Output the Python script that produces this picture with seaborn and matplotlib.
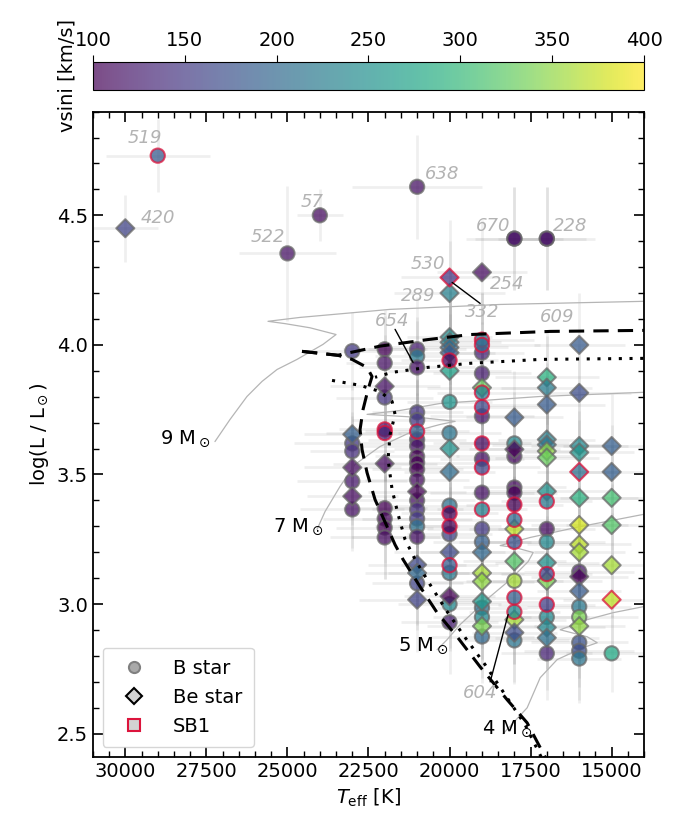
import numpy as np
import pandas as pd
import seaborn as sns
import matplotlib.pyplot as plt
from matplotlib.colors import Normalize
from matplotlib.ticker import MultipleLocator
from matplotlib.lines import Line2D

# ---- star data (Teff [K], log L, vsini [km/s], Be flag, SB1 flag, errors) ----
teff = [30000, 29000, 25000, 24000, 21000, 18000, 17000,
        23000, 23000, 23000, 23000, 23000, 23000, 23000, 23000,
        22000, 22000, 22000, 22000, 22000, 22000, 22000, 22000, 22000, 22000, 22000,
        21000, 21000, 21000, 21000, 21000, 21000, 21000, 21000, 21000, 21000, 21000,
        21000, 21000, 21000, 21000, 21000, 21000, 21000, 21000, 21000, 21000, 21000,
        20000, 20000, 20000, 20000, 20000, 20000, 20000, 20000, 20000, 20000, 20000,
        20000, 20000, 20000, 20000, 20000, 20000, 20000, 20000, 20000, 20000, 20000,
        19000, 19000, 19000, 19000, 19000, 19000, 19000, 19000, 19000, 19000, 19000, 19000,
        19000, 19000, 19000, 19000, 19000, 19000, 19000, 19000, 19000, 19000, 19000, 19000,
        18000, 18000, 18000, 18000, 18000, 18000, 18000, 18000, 18000, 18000, 18000, 18000,
        18000, 18000, 18000, 18000, 18000, 18000,
        17000, 17000, 17000, 17000, 17000, 17000, 17000, 17000, 17000, 17000, 17000, 17000,
        17000, 17000, 17000, 17000, 17000, 17000, 17000, 17000,
        16000, 16000, 16000, 16000, 16000, 16000, 16000, 16000, 16000, 16000, 16000, 16000,
        16000, 16000, 16000, 16000, 16000, 16000,
        15000, 15000, 15000, 15000, 15000, 15000, 15000]
logl = [4.45, 4.73, 4.353, 4.50, 4.61, 4.41, 4.41,
        3.976, 3.655, 3.62, 3.59, 3.527, 3.474, 3.416, 3.365,
        3.983, 3.93, 3.84, 3.797, 3.674, 3.66, 3.542, 3.37, 3.33, 3.295, 3.257,
        3.983, 3.956, 3.913, 3.74, 3.71, 3.666, 3.635, 3.61, 3.57, 3.546, 3.52,
        3.48, 3.434, 3.40, 3.365, 3.33, 3.30, 3.26, 3.152, 3.12, 3.08, 3.017,
        4.26, 4.20, 4.03, 4.01, 3.99, 3.97, 3.94, 3.90, 3.78, 3.66, 3.60,
        3.51, 3.38, 3.35, 3.30, 3.27, 3.20, 3.15, 3.12, 3.03, 3.00, 2.93,
        4.28, 4.02, 4.00, 3.97, 3.89, 3.835, 3.816, 3.76, 3.725, 3.62, 3.56, 3.527,
        3.43, 3.365, 3.29, 3.24, 3.20, 3.12, 3.087, 3.01, 2.986, 2.95, 2.915, 2.875,
        4.41, 3.72, 3.62, 3.597, 3.57, 3.45, 3.43, 3.384, 3.325, 3.29, 3.24, 3.165,
        3.09, 3.025, 2.97, 2.94, 2.89, 2.86,
        4.41, 3.875, 3.835, 3.77, 3.635, 3.615, 3.59, 3.565, 3.435, 3.396, 3.29, 3.24,
        3.16, 3.116, 3.09, 2.998, 2.95, 2.91, 2.87, 2.81,
        4.00, 3.815, 3.61, 3.585, 3.51, 3.41, 3.305, 3.23, 3.20, 3.125, 3.106, 3.05,
        2.99, 2.95, 2.915, 2.852, 2.82, 2.79,
        3.61, 3.51, 3.41, 3.305, 3.15, 3.017, 2.81]
vsini = [160, 185, 115, 110, 115, 115, 115,
         150, 190, 150, 140, 110, 120, 110, 115,
         90, 115, 115, 145, 120, 130, 110, 100, 105, 95, 110,
         125, 220, 115, 145, 150, 190, 120, 115, 95, 100, 100,
         110, 95, 115, 140, 150, 210, 115, 165, 200, 160, 160,
         150, 230, 245, 230, 200, 185, 105, 270, 255, 215, 250,
         205, 210, 100, 100, 160, 165, 185, 220, 95, 240, 125,
         110, 215, 200, 130, 125, 330, 225, 165, 120, 110, 115, 160,
         115, 230, 150, 190, 200, 360, 350, 260, 210, 240, 340, 200,
         115, 185, 240, 95, 110, 110, 95, 100, 200, 370, 175, 320,
         360, 190, 240, 360, 170, 215,
         115, 290, 225, 185, 230, 215, 350, 330, 250, 220, 110, 240,
         250, 160, 340, 155, 240, 240, 210, 130,
         185, 170, 240, 255, 210, 290, 380, 370, 360, 120, 100, 185,
         220, 340, 350, 175, 170, 215,
         190, 190, 310, 320, 360, 370, 280]
is_be = [1, 0, 0, 0, 0, 0, 0,
         0, 1, 0, 0, 1, 0, 1, 0,
         0, 0, 1, 0, 0, 0, 1, 0, 0, 0, 0,
         0, 0, 0, 0, 0, 0, 0, 0, 0, 0, 0,
         0, 1, 0, 0, 0, 0, 0, 1, 1, 0, 1,
         1, 1, 1, 1, 1, 1, 0, 1, 0, 0, 1,
         1, 0, 0, 0, 0, 1, 0, 0, 1, 0, 0,
         1, 0, 0, 0, 0, 1, 0, 0, 0, 0, 0, 0,
         0, 0, 0, 0, 1, 1, 1, 1, 0, 0, 1, 0,
         0, 1, 0, 1, 0, 0, 0, 0, 0, 1, 0, 1,
         0, 0, 0, 1, 1, 0,
         0, 1, 1, 1, 1, 1, 1, 1, 1, 0, 0, 0,
         1, 0, 1, 0, 0, 1, 1, 0,
         1, 1, 1, 1, 1, 1, 1, 1, 1, 0, 1, 1,
         0, 0, 1, 0, 0, 0,
         1, 1, 1, 1, 1, 1, 0]
is_sb1 = [0, 1, 0, 0, 0, 0, 0,
          0, 0, 0, 0, 0, 0, 0, 0,
          0, 0, 0, 0, 1, 1, 0, 0, 0, 0, 0,
          0, 0, 0, 0, 0, 1, 0, 0, 0, 0, 0,
          0, 0, 0, 0, 0, 0, 0, 0, 0, 0, 0,
          1, 0, 0, 0, 0, 0, 1, 0, 0, 0, 0,
          0, 0, 1, 1, 0, 0, 1, 0, 0, 0, 0,
          0, 1, 1, 0, 0, 0, 1, 1, 0, 1, 0, 1,
          0, 1, 0, 0, 0, 0, 0, 0, 0, 0, 0, 0,
          0, 0, 0, 0, 0, 0, 0, 1, 1, 0, 1, 0,
          0, 1, 1, 0, 0, 0,
          0, 0, 0, 0, 0, 0, 0, 0, 0, 1, 0, 0,
          0, 1, 0, 1, 0, 0, 0, 0,
          0, 0, 0, 0, 1, 0, 0, 0, 0, 0, 0, 0,
          0, 0, 0, 0, 0, 0,
          0, 0, 0, 0, 0, 1, 0]
teff_err = [1000, 1600, 1500, 700, 2000, 1500, 1500,
            1200, 1500, 1800, 1300, 1500, 1700, 1400, 1600,
            1300, 1200, 1700, 1500, 1400, 1800, 1600, 1300, 1900, 1500, 1700,
            1500, 1300, 1800, 1400, 2000, 1600, 1500, 1700, 1300, 1900, 1400,
            1600, 1500, 1800, 1400, 1700, 1300, 2000, 1500, 1600, 1400, 1800,
            1500, 1700, 1300, 1600, 1800, 1400, 1500, 1900, 1300, 1600, 1700,
            1400, 1800, 1500, 1600, 1300, 1700, 1500, 1900, 1400, 1600, 1500,
            1400, 1600, 1800, 1300, 1500, 1700, 1400, 1900, 1600, 1500, 1300, 1800,
            1600, 1400, 1700, 1500, 1900, 1300, 1600, 1800, 1400, 1500, 1700, 1600,
            1200, 1500, 1700, 1400, 1800, 1600, 1300, 1500, 1900, 1400, 1700, 1600,
            1500, 1800, 1400, 1600, 1300, 1700,
            1200, 1600, 1400, 1800, 1500, 1700, 1300, 1600, 1900, 1400, 1500, 1800,
            1600, 1400, 1700, 1500, 1300, 1800, 1600, 1400,
            1400, 1600, 1500, 1700, 1300, 1800, 1500, 1600, 1400, 1700, 1500, 1300,
            1600, 1800, 1400, 1500, 1700, 1300,
            1500, 1300, 1600, 1400, 1700, 1500, 1400]
logl_err = [0.13, 0.14, 0.26, 0.1, 0.2, 0.2, 0.2,
            0.15, 0.2, 0.18, 0.15, 0.2, 0.17, 0.2, 0.16,
            0.15, 0.18, 0.2, 0.16, 0.2, 0.18, 0.2, 0.15, 0.17, 0.2, 0.16,
            0.2, 0.15, 0.18, 0.2, 0.16, 0.2, 0.18, 0.15, 0.2, 0.17, 0.2,
            0.16, 0.2, 0.18, 0.15, 0.2, 0.17, 0.2, 0.16, 0.2, 0.18, 0.2,
            0.22, 0.2, 0.18, 0.2, 0.16, 0.2, 0.18, 0.15, 0.2, 0.17, 0.2,
            0.16, 0.2, 0.18, 0.15, 0.2, 0.17, 0.2, 0.16, 0.2, 0.18, 0.2,
            0.2, 0.18, 0.2, 0.16, 0.2, 0.18, 0.15, 0.2, 0.17, 0.2, 0.16, 0.2,
            0.18, 0.15, 0.2, 0.17, 0.2, 0.16, 0.2, 0.18, 0.2, 0.16, 0.2, 0.18,
            0.2, 0.18, 0.2, 0.16, 0.2, 0.18, 0.15, 0.2, 0.17, 0.2, 0.16, 0.2,
            0.18, 0.15, 0.2, 0.17, 0.2, 0.16,
            0.2, 0.18, 0.2, 0.16, 0.2, 0.18, 0.15, 0.2, 0.17, 0.2, 0.16, 0.2,
            0.18, 0.15, 0.2, 0.17, 0.2, 0.16, 0.2, 0.18,
            0.2, 0.18, 0.2, 0.16, 0.2, 0.18, 0.15, 0.2, 0.17, 0.2, 0.16, 0.2,
            0.18, 0.15, 0.2, 0.17, 0.2, 0.16,
            0.2, 0.18, 0.2, 0.16, 0.2, 0.18, 0.15]

# labelled stars
label_ids = ["519", "420", "57", "522", "638", "670", "228",
             "530", "254", "289", "332", "654", "609", "604"]
label_teff = [29395, 28994, 24241, 25599, 20229, 18655, 16279,
              20661, 18223, 20970, 18994, 21772, 16680, 19056]
label_logl = [4.80, 4.49, 4.55, 4.415, 4.658, 4.457, 4.457,
              4.311, 4.234, 4.188, 4.125, 4.091, 4.106, 2.658]
pointer_teff = [(21680, 21124), (19920, 19056), (18747, 18192)]
pointer_logl = [(4.06, 3.932), (4.241, 4.16), (2.70, 2.96)]

# boundary curves
dash_up_teff = [24550, 23450, 22150, 20700, 19350, 16900, 14000]
dash_up_logl = [3.975, 3.96, 3.995, 4.02, 4.04, 4.052, 4.056]
dash_lo_teff = [24550, 23450, 23007, 22544, 22390, 22513, 22667, 22760, 22698, 22544,
                22297, 21927, 21680, 21433, 20908, 20383, 19766, 19056, 18223, 17606, 17050]
dash_lo_logl = [3.975, 3.96, 3.944, 3.913, 3.878, 3.828, 3.751, 3.673, 3.596, 3.507,
                3.403, 3.299, 3.229, 3.172, 3.067, 2.967, 2.874, 2.758, 2.631, 2.542, 2.41]
dot_up_teff = [14025, 17204, 19365, 20692, 21772, 22297]
dot_up_logl = [3.948, 3.944, 3.929, 3.913, 3.894, 3.875]
dot_lo_teff = [23624, 22760, 22142, 21772, 21680, 21834, 21896, 21772, 21587, 21371,
               21062, 20599, 20074, 19519, 18902, 18285, 17667, 17173]
dot_lo_logl = [3.863, 3.844, 3.820, 3.782, 3.732, 3.654, 3.558, 3.442, 3.346, 3.249,
               3.172, 3.075, 2.971, 2.871, 2.766, 2.650, 2.534, 2.41]

# evolutionary tracks
track_masses = ["9", "7", "5", "4"]
track_teff = [
    [27235, 26772, 26247, 25784, 25321, 24704, 23902, 23500, 24303, 25074, 25599,
     24612, 21834, 18438, 14025],
    [24087, 23840, 23377, 22914, 22142, 21216, 20290, 19827, 20908, 21988, 22544,
     21525, 20290, 17204, 14025],
    [20383, 20074, 19673, 18747, 18130, 17575, 17420, 17976, 18438, 17513, 15970, 14025],
    [18346, 17976, 17606, 17204, 16680, 15877, 15445, 15754, 16587, 15754, 14951, 14025],
]
track_logl = [
    [3.627, 3.712, 3.801, 3.859, 3.905, 3.944, 4.002, 4.040, 4.066, 4.082, 4.091,
     4.106, 4.137, 4.156, 4.168],
    [3.288, 3.357, 3.454, 3.539, 3.608, 3.662, 3.693, 3.705, 3.720, 3.728, 3.732,
     3.747, 3.774, 3.801, 3.817],
    [2.824, 2.863, 2.921, 3.029, 3.094, 3.164, 3.199, 3.218, 3.226, 3.257, 3.299, 3.346],
    [2.500, 2.550, 2.600, 2.716, 2.786, 2.832, 2.851, 2.874, 2.901, 2.940, 2.967, 2.990],
]
mass_label_teff = [27390, 23900, 20020, 17430]
mass_label_logl = [3.64, 3.30, 2.84, 2.52]

df = pd.DataFrame({"teff": teff, "logl": logl, "vsini": vsini, "be": is_be,
                   "sb1": is_sb1, "teff_err": teff_err, "logl_err": logl_err})

sns.set_style("ticks")
plt.rcParams["font.family"] = ["DejaVu Sans"]
plt.rcParams.update({"text.color": "black", "axes.labelcolor": "black",
                     "xtick.color": "black", "ytick.color": "black",
                     "axes.edgecolor": "black"})

fig = plt.figure(figsize=(6.83, 8.17), dpi=100)
ax = fig.add_axes([0.136, 0.0734, 0.807, 0.790])
cax = fig.add_axes([0.136, 0.890, 0.807, 0.034])

norm = Normalize(100, 400)

ax.errorbar(df["teff"], df["logl"], xerr=df["teff_err"], yerr=df["logl_err"],
            fmt="none", ecolor="gray", elinewidth=2, alpha=0.12, zorder=1)

for tt, ll in zip(track_teff, track_logl):
    ax.plot(tt, ll, color="#b5b5b5", lw=0.9, zorder=1.5)
for m, tx, ly in zip(track_masses, mass_label_teff, mass_label_logl):
    ax.text(tx, ly, m + r" M$_\odot$", ha="right", va="center", fontsize=14, zorder=5)

groups = [(0, 0, "o", "dimgray"), (1, 0, "D", "dimgray"),
          (0, 1, "o", "crimson"), (1, 1, "D", "crimson")]
for be, sb, mk, ec in groups:
    sub = df[(df["be"] == be) & (df["sb1"] == sb)]
    sns.scatterplot(data=sub, x="teff", y="logl", hue="vsini", palette="viridis",
                    hue_norm=norm, marker=mk, s=105 if mk == "o" else 85,
                    edgecolor=ec, linewidth=1.5, alpha=0.75, legend=False,
                    ax=ax, zorder=3)

ax.plot(dash_up_teff, dash_up_logl, color="k", ls=(0, (5, 3)), lw=2.2, zorder=4)
ax.plot(dash_lo_teff, dash_lo_logl, color="k", ls=(0, (5, 3)), lw=2.2, zorder=4)
ax.plot(dot_up_teff, dot_up_logl, color="k", ls=(0, (1, 2.5)), lw=2.2, zorder=4)
ax.plot(dot_lo_teff, dot_lo_logl, color="k", ls=(0, (1, 2.5)), lw=2.2, zorder=4)

for (t0, t1), (l0, l1) in zip(pointer_teff, pointer_logl):
    ax.plot([t0, t1], [l0, l1], color="k", lw=1, zorder=4)
for s, tx, ly in zip(label_ids, label_teff, label_logl):
    ax.text(tx, ly, s, color="#b3b3b3", fontsize=13, style="italic",
            ha="center", va="center", zorder=5)

ax.set_xlim(31000, 14000)
ax.set_ylim(2.41, 4.9)
ax.set_xlabel(r"$T_{\rm eff}$ [K]", fontsize=14)
ax.set_ylabel(r"log(L / L$_\odot$)", fontsize=14)
ax.xaxis.set_major_locator(MultipleLocator(2500))
ax.xaxis.set_minor_locator(MultipleLocator(500))
ax.yaxis.set_major_locator(MultipleLocator(0.5))
ax.yaxis.set_minor_locator(MultipleLocator(0.1))
ax.tick_params(which="both", direction="in", top=True, right=True, labelsize=14)
ax.tick_params(which="major", length=7, width=1.2)
ax.tick_params(which="minor", length=4, width=1)
for sp in ax.spines.values():
    sp.set_linewidth(1.3)

handles = [
    Line2D([], [], ls="none", marker="o", ms=8, mfc="darkgray", mec="gray", mew=1.5),
    Line2D([], [], ls="none", marker="D", ms=8, mfc="lightgray", mec="k", mew=1.5),
    Line2D([], [], ls="none", marker="s", ms=8, mfc="lightgray", mec="crimson", mew=1.5),
]
ax.legend(handles, ["B star", "Be star", "SB1"], loc="lower left", fontsize=14,
          handletextpad=1.0, borderpad=0.6)

sm = plt.cm.ScalarMappable(norm=norm, cmap="viridis")
cbar = fig.colorbar(sm, cax=cax, orientation="horizontal", alpha=0.7)
cbar.ax.xaxis.set_ticks_position("top")
cbar.ax.tick_params(labelsize=14, length=5)
cbar.set_ticks([100, 150, 200, 250, 300, 350, 400])
cbar.ax.set_ylabel("vsini [km/s]", fontsize=14, rotation=90, labelpad=12)

fig.savefig("out.png", dpi=100)
